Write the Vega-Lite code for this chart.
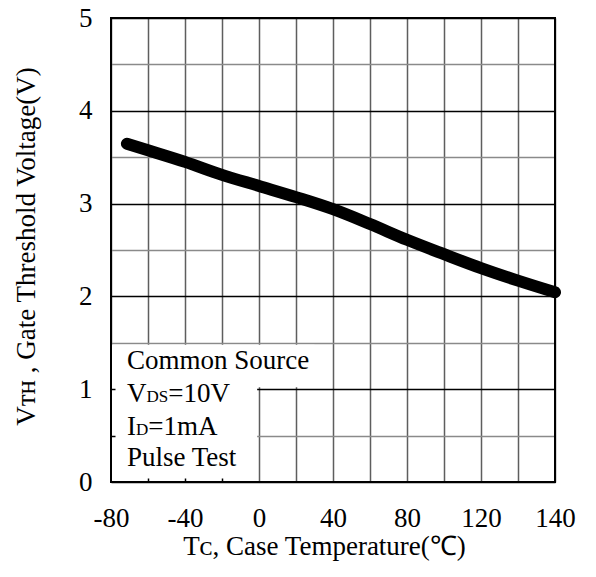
{
  "$schema": "https://vega.github.io/schema/vega-lite/v6.json",
  "width": 444,
  "height": 464,
  "autosize": {"type": "none"},
  "padding": {"left": 111, "top": 18, "right": 41, "bottom": 95},
  "background": "white",
  "config": {"view": {"stroke": null}, "font": "Liberation Serif"},
  "datasets": {
    "curve": [
      {"t": -71.4, "v": 3.645},
      {"t": -60, "v": 3.575},
      {"t": -40, "v": 3.45},
      {"t": -20, "v": 3.31},
      {"t": 0, "v": 3.19},
      {"t": 20, "v": 3.07},
      {"t": 40, "v": 2.94},
      {"t": 60, "v": 2.78},
      {"t": 80, "v": 2.61},
      {"t": 100, "v": 2.455},
      {"t": 120, "v": 2.305},
      {"t": 140, "v": 2.17},
      {"t": 160, "v": 2.045}
    ],
    "box": [
      {"x1": -80, "x2": -1, "y1": 0, "y2": 1.48},
      {"x1": -1, "x2": 30, "y1": 1.02, "y2": 1.48}
    ],
    "txt": [
      {"tx": -71.4, "ty": 1.217, "label": "Common Source"},
      {"tx": -71.4, "ty": 0.861, "label": "V"},
      {"tx": -49.1, "ty": 0.861, "label": "=10V"},
      {"tx": -71.4, "ty": 0.505, "label": "I"},
      {"tx": -59.8, "ty": 0.505, "label": "=1mA"},
      {"tx": -71.4, "ty": 0.17, "label": "Pulse Test"}
    ],
    "sub": [
      {"tx": -60.8, "ty": 0.861, "label": "DS"},
      {"tx": -66.5, "ty": 0.505, "label": "D"}
    ],
    "frame": [{"x1": -80, "x2": 160, "y1": 0, "y2": 5}]
  },
  "layer": [
    {
      "data": {"name": "box"},
      "mark": {"type": "rect", "fill": "white"},
      "encoding": {
        "x": {
          "field": "x1", "type": "quantitative",
          "scale": {"domain": [-80, 160], "nice": false, "zero": false},
          "axis": {
            "orient": "bottom",
            "values": [-80, -60, -40, -20, 0, 20, 40, 60, 80, 100, 120, 140, 160],
            "grid": true, "gridColor": "#5e5e5e", "gridWidth": 1.5,
            "domain": false, "ticks": false, "labels": false, "title": null
          }
        },
        "x2": {"field": "x2"},
        "y": {
          "field": "y1", "type": "quantitative",
          "scale": {"domain": [0, 5], "nice": false, "zero": false},
          "axis": {
            "orient": "left",
            "values": [0, 0.5, 1, 1.5, 2, 2.5, 3, 3.5, 4, 4.5, 5],
            "grid": true,
            "gridColor": {"condition": {"test": "datum.value % 1 === 0", "value": "#000000"}, "value": "#8a8a8a"},
            "gridWidth": 1.5,
            "domain": false, "ticks": false, "labels": false, "title": null
          }
        },
        "y2": {"field": "y2"}
      }
    },
    {
      "data": {"name": "curve"},
      "mark": {"type": "line", "color": "black", "strokeWidth": 12, "strokeCap": "round", "strokeJoin": "round", "interpolate": "monotone"},
      "encoding": {
        "x": {
          "field": "t", "type": "quantitative",
          "axis": {
            "orient": "bottom",
            "values": [-80, -40, 0, 40, 80, 120, 160],
            "labelExpr": "datum.value === 160 ? '140' : toString(datum.value)",
            "grid": false, "domain": false, "ticks": false, "tickSize": 0,
            "labelPadding": 23, "labelFontSize": 27, "labelFont": "Liberation Serif",
            "labelColor": "black", "labelOverlap": false, "labelFlush": false,
            "title": "Tᴄ, Case Temperature(℃)",
            "titleFont": "Liberation Serif", "titleFontSize": 27, "titleFontWeight": "normal",
            "titleColor": "black", "titlePadding": 2, "titleX": 213
          }
        },
        "y": {
          "field": "v", "type": "quantitative",
          "axis": {
            "orient": "left",
            "values": [0, 1, 2, 3, 4, 5],
            "labelExpr": "toString(datum.value)",
            "grid": false, "domain": false, "ticks": false, "tickSize": 0,
            "labelPadding": 19, "labelFontSize": 27, "labelFont": "Liberation Serif",
            "labelColor": "black", "labelOverlap": false, "labelFlush": false,
            "title": "Vᴛʜ , Gate Threshold Voltage(V)",
            "titleFont": "Liberation Serif", "titleFontSize": 27, "titleFontWeight": "normal",
            "titleColor": "black", "titlePadding": 38, "titleY": 228
          }
        }
      }
    },
    {
      "data": {"name": "txt"},
      "mark": {"type": "text", "align": "left", "baseline": "alphabetic", "fontSize": 27, "font": "Liberation Serif", "color": "black"},
      "encoding": {
        "x": {"field": "tx", "type": "quantitative", "axis": null},
        "y": {"field": "ty", "type": "quantitative", "axis": null},
        "text": {"field": "label"}
      }
    },
    {
      "data": {"name": "sub"},
      "mark": {"type": "text", "align": "left", "baseline": "alphabetic", "fontSize": 17, "font": "Liberation Serif", "color": "black"},
      "encoding": {
        "x": {"field": "tx", "type": "quantitative", "axis": null},
        "y": {"field": "ty", "type": "quantitative", "axis": null},
        "text": {"field": "label"}
      }
    },
    {
      "data": {"name": "frame"},
      "mark": {"type": "rect", "fill": null, "filled": false, "stroke": "black", "strokeWidth": 2},
      "encoding": {
        "x": {
          "field": "x1", "type": "quantitative",
          "axis": {
            "orient": "bottom",
            "values": [-60, -40, -20],
            "grid": false, "domain": false, "labels": false, "title": null,
            "ticks": true, "tickSize": -4, "tickColor": "black", "tickWidth": 1.5, "zindex": 1
          }
        },
        "x2": {"field": "x2"},
        "y": {
          "field": "y1", "type": "quantitative",
          "axis": {
            "orient": "left",
            "values": [0.5, 1],
            "grid": false, "domain": false, "labels": false, "title": null,
            "ticks": true, "tickSize": -4, "tickColor": "black", "tickWidth": 1.5, "zindex": 1
          }
        },
        "y2": {"field": "y2"}
      }
    }
  ],
  "resolve": {"axis": {"x": "independent", "y": "independent"}}
}
